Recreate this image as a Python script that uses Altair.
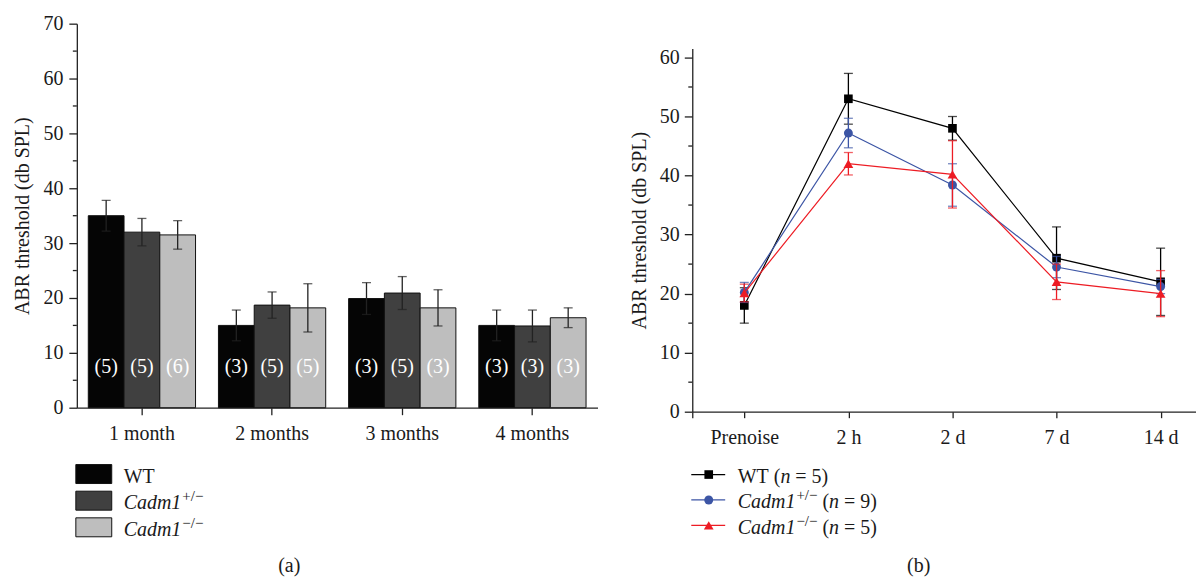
import json
import altair as alt
import pandas as pd

FONT = "Liberation Serif"
FS = 20
INK = "#1a1a1a"

# ---------------- panel (a) data ----------------
months = ["1 month", "2 months", "3 months", "4 months"]
genotypes = ["WT", "Cadm1+/-", "Cadm1-/-"]
bar_colors = ["#050505", "#404040", "#bebebe"]
wt_mean = [35.0, 15.0, 19.9, 15.0]
wt_err = [2.8, 2.8, 2.9, 2.8]
het_mean = [32.0, 18.7, 20.9, 14.9]
het_err = [2.5, 2.4, 3.0, 2.9]
ko_mean = [31.5, 18.2, 18.2, 16.4]
ko_err = [2.6, 4.4, 3.3, 1.8]
wt_n = [5, 3, 3, 3]
het_n = [5, 5, 5, 3]
ko_n = [6, 5, 3, 3]

# ---------------- panel (b) data ----------------
times = ["Prenoise", "2 h", "2 d", "7 d", "14 d"]
series = ["WT", "Cadm1+/-", "Cadm1-/-"]
line_colors = ["#000000", "#3c55a5", "#ed1c24"]
line_shapes = ["square", "circle", "triangle-up"]
line_sizes = [75, 80, 95]
wt_line = [18.0, 53.0, 48.0, 26.0, 22.0]
wt_line_err = [3.0, 4.3, 2.0, 5.3, 5.7]
het_line = [20.2, 47.2, 38.4, 24.5, 21.2]
het_line_err = [1.7, 2.5, 3.6, 1.8, 1.2]
ko_line = [20.1, 42.0, 40.2, 22.0, 20.0]
ko_line_err = [1.5, 1.9, 5.7, 3.0, 3.9]
n_animals = [5, 9, 5]

legend_main = ["WT", "Cadm1", "Cadm1"]
legend_sup = ["", "+/\u2212", "\u2212/\u2212"]
y_title = "ABR threshold (db SPL)"

# ---------------- helpers ----------------
REG = {"W": .944, "T": .611, " ": .25, "(": .333, ")": .333, "=": .564,
       "+": .564, "/": .278, "\u2212": .564}
ITA = {"C": .667, "a": .5, "d": .5, "m": .722, "1": .5, "n": .5}


def tw(s, size, italic=False):
    tbl = ITA if italic else REG
    return sum(tbl.get(ch, .5) for ch in s) * size


def text_piece(s, x, y, size=FS, italic=False, align="left", color=INK):
    return alt.Chart(pd.DataFrame({"t": [s]})).mark_text(
        align=align, baseline="alphabetic", font=FONT, fontSize=size,
        fontStyle="italic" if italic else "normal", color=color
    ).encode(x=alt.value(x), y=alt.value(y), text="t:N")


def legend_text(i, x0, y, with_n):
    pieces = []
    main = legend_main[i]
    italic = main != "WT"
    pieces.append(text_piece(main, x0, y, italic=italic))
    x = x0 + tw(main, FS, italic)
    if legend_sup[i]:
        x += 1
        pieces.append(text_piece(legend_sup[i], x, y - 8, size=15))
        x += tw(legend_sup[i], 15)
    if with_n:
        x += 0.25 * FS
        pieces.append(text_piece("(", x, y))
        x += tw("(", FS)
        pieces.append(text_piece("n", x, y, italic=True))
        x += tw("n", FS, True) + 0.25 * FS
        pieces.append(text_piece(f"= {n_animals[i]})", x, y))
    return pieces


# ---------------- panel (a) ----------------
rows = []
for g, means, errs, ns in zip(genotypes, [wt_mean, het_mean, ko_mean],
                              [wt_err, het_err, ko_err], [wt_n, het_n, ko_n]):
    for m, v, e, n in zip(months, means, errs, ns):
        rows.append({"month": m, "genotype": g, "mean": v, "lo": v - e,
                     "hi": v + e, "nlab": f"({n})"})
bar_df = pd.DataFrame(rows)

A_W, A_H = 522, 385
ya_scale = alt.Scale(domain=[0, 70], nice=False, zero=True)
ya_axis = alt.Axis(values=list(range(0, 71, 10)), tickSize=8,
                   labelPadding=6, titlePadding=10)
xa = alt.X("month:N", sort=months, title=None,
           scale=alt.Scale(paddingInner=0.176, paddingOuter=0.088),
           axis=alt.Axis(labelAngle=0, tickSize=7, labelPadding=9))
xoa = alt.XOffset("genotype:N", sort=genotypes,
                  scale=alt.Scale(paddingInner=0, paddingOuter=0))


def ya(field):
    return alt.Y(field, scale=ya_scale, title=y_title, axis=ya_axis)


bars = alt.Chart(bar_df).mark_bar(stroke="#111", strokeWidth=1).encode(
    x=xa, xOffset=xoa, y=ya("mean:Q"),
    color=alt.Color("genotype:N", sort=genotypes,
                    scale=alt.Scale(domain=genotypes, range=bar_colors),
                    legend=None),
)
err_a = alt.Chart(bar_df).mark_rule(color="#222", strokeWidth=1.3).encode(
    x=xa, xOffset=xoa, y=ya("lo:Q"), y2="hi:Q")
cap_hi_a = alt.Chart(bar_df).mark_tick(color="#222", thickness=1.3, size=9,
                                       orient="horizontal").encode(
    x=xa, xOffset=xoa, y=ya("hi:Q"))
cap_lo_a = alt.Chart(bar_df).mark_tick(color="#222", thickness=1.3, size=9,
                                       orient="horizontal").encode(
    x=xa, xOffset=xoa, y=ya("lo:Q"))
nlab = alt.Chart(bar_df).mark_text(color="white", font=FONT, fontSize=FS,
                                   baseline="middle").encode(
    x=xa, xOffset=xoa, y=alt.value(344), text="nlab:N")
minor_a = alt.Chart(pd.DataFrame({"v": list(range(5, 70, 10))})).mark_rule(
    color="#222", strokeWidth=1.3).encode(
    y=ya("v:Q"), x=alt.value(-4), x2=alt.value(0))

leg_a = []
for i, c in enumerate(bar_colors):
    top = 442 + i * 26.7
    leg_a.append(alt.Chart(pd.DataFrame({"k": [genotypes[i]]})).mark_rect(
        fill=c, stroke="#111", strokeWidth=1).encode(
        x=alt.value(-1), x2=alt.value(35), y=alt.value(top), y2=alt.value(top + 19)))
    leg_a += legend_text(i, 47, top + 18, with_n=False)
leg_a.append(text_piece("(a)", 213, 550, align="center"))

panel_a = alt.layer(bars, err_a, cap_hi_a, cap_lo_a, nlab, minor_a, *leg_a).properties(
    width=A_W, height=A_H)

# ---------------- panel (b) ----------------
lrows = []
for s, means, errs in zip(series, [wt_line, het_line, ko_line],
                          [wt_line_err, het_line_err, ko_line_err]):
    for k, (t, v, e) in enumerate(zip(times, means, errs)):
        lrows.append({"series": s, "time": t, "idx": k, "mean": v,
                      "lo": v - e, "hi": v + e})
line_df = pd.DataFrame(lrows)

B_W, B_H = 505, 389
B_TOP = 25  # plot area of (b) starts lower than that of (a)
yb_scale = alt.Scale(domain=[0, 61.5], nice=False, zero=True, range=[B_H, B_TOP])
yb_axis = alt.Axis(values=list(range(0, 61, 10)), tickSize=8,
                   labelPadding=5, titlePadding=10)
xb_scale = alt.Scale(domain=[-0.5, 4.34], nice=False, zero=False)
label_expr = f"datum.value < 0 ? '' : {json.dumps(times)}[datum.value]"
xb = alt.X("idx:Q", scale=xb_scale, title=None,
           axis=alt.Axis(values=[-0.5, 0, 1, 2, 3, 4], labelExpr=label_expr,
                         tickSize=6, labelPadding=10, grid=False))


def yb(field):
    return alt.Y(field, scale=yb_scale, title=y_title, axis=yb_axis)


layers_b = []
for s, c, shp, sz in zip(series, line_colors, line_shapes, line_sizes):
    base = alt.Chart(line_df).transform_filter(alt.datum.series == s)
    layers_b.append(base.mark_line(color=c, strokeWidth=1.2).encode(
        x=xb, y=yb("mean:Q")))
    layers_b.append(base.mark_rule(color=c, strokeWidth=1.3).encode(
        x=xb, y=yb("lo:Q"), y2="hi:Q"))
    layers_b.append(base.mark_tick(color=c, thickness=1.3, size=9,
                                   orient="horizontal").encode(
        x=xb, y=yb("hi:Q")))
    layers_b.append(base.mark_tick(color=c, thickness=1.3, size=9,
                                   orient="horizontal").encode(
        x=xb, y=yb("lo:Q")))
    layers_b.append(base.mark_point(color=c, shape=shp, size=sz, filled=True,
                                    opacity=1).encode(
        x=xb, y=yb("mean:Q")))

minor_b = alt.Chart(pd.DataFrame({"v": list(range(5, 60, 10))})).mark_rule(
    color="#222", strokeWidth=1.3).encode(
    y=yb("v:Q"), x=alt.value(-4), x2=alt.value(0))

leg_b = []
for i, (c, shp, sz) in enumerate(zip(line_colors, line_shapes, line_sizes)):
    ly = 452 + i * 25.5
    leg_b.append(alt.Chart(pd.DataFrame({"k": [series[i]]})).mark_rule(
        color=c, strokeWidth=1.3).encode(
        x=alt.value(-1), x2=alt.value(33), y=alt.value(ly)))
    leg_b.append(alt.Chart(pd.DataFrame({"k": [series[i]]})).mark_point(
        color=c, shape=shp, size=sz, filled=True, opacity=1).encode(
        x=alt.value(16.5), y=alt.value(ly)))
    leg_b += legend_text(i, 45.6, ly + 8.3, with_n=True)
leg_b.append(text_piece("(b)", 227, 550, align="center"))

panel_b = alt.layer(*layers_b, minor_b, *leg_b).properties(
    width=B_W, height=B_H)

chart = alt.hconcat(panel_a, panel_b, spacing=32).properties(
    padding={"left": 5, "top": 5, "right": 0, "bottom": 0}
).configure_view(stroke=None).configure_axis(
    labelFont=FONT, titleFont=FONT, labelFontSize=FS, titleFontSize=FS,
    titleFontWeight="normal", labelColor=INK, titleColor=INK,
    domainColor="#222", tickColor="#222", domainWidth=1.3, tickWidth=1.3,
    grid=False
)

chart.save("out.html", embed_options={"renderer": "svg", "actions": False})
